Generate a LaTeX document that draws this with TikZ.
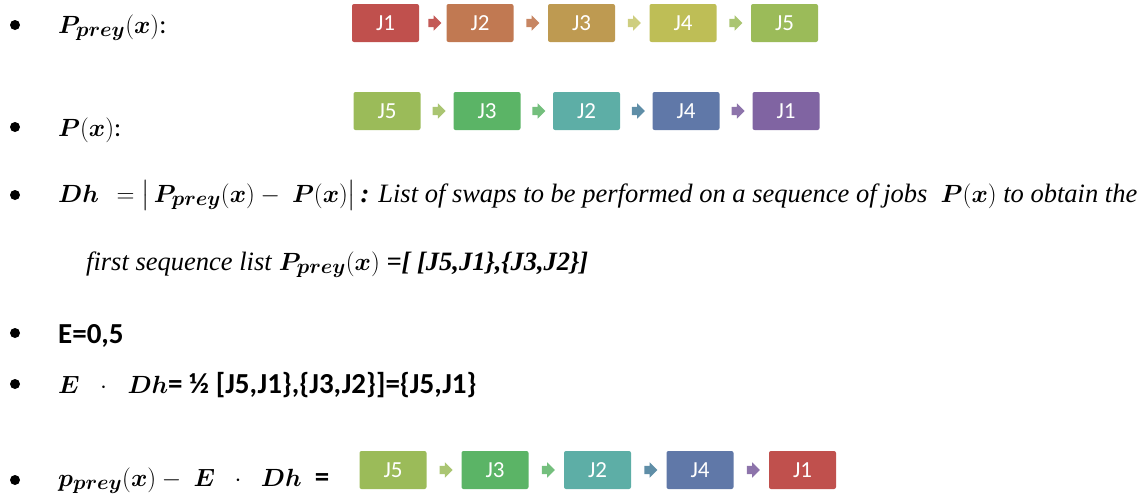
\documentclass[tikz,border=0pt]{standalone}
\usepackage{amsmath}
\usepackage{bm}
\usepackage{fontspec}
\setmainfont{Liberation Serif}
\newfontfamily\calibri{Carlito}
\usetikzlibrary{shapes.arrows,calc}

\definecolor{jobRed}{HTML}{C0504D}
\definecolor{jobBrown}{HTML}{C17952}
\definecolor{jobOchre}{HTML}{BE9A51}
\definecolor{jobOlive}{HTML}{BEBE56}
\definecolor{jobLime}{HTML}{9BBB59}
\definecolor{jobGreen}{HTML}{5BB466}
\definecolor{jobTeal}{HTML}{5DAEA6}
\definecolor{jobBlue}{HTML}{6078A8}
\definecolor{jobPurple}{HTML}{8064A2}

\newcommand{\sansbold}{\calibri\bfseries\fontsize{29}{31}\selectfont}
\newcommand{\prey}{_{\text{\fontsize{21}{21}\selectfont$\bm{prey}$}}}

\tikzset{
    jobbox/.style={
        fill=#1,
        rounded corners=2pt,
        minimum width=67pt,
        minimum height=38pt,
        inner sep=0pt,
        text=white,
        font=\calibri\fontsize{23}{23}\selectfont
    },
    jobarrow/.style={
        single arrow,
        fill=#1,
        inner xsep=0pt,
        inner ysep=4pt,
        minimum height=13pt,
        single arrow head extend=3.5pt
    },
    bulletdot/.style={
        circle,
        fill=black,
        minimum size=10pt,
        inner sep=0pt
    },
    textline/.style={
        anchor=base west,
        inner sep=0pt,
        font=\fontsize{26.5}{30}\selectfont
    }
}

\begin{document}
\begin{tikzpicture}[x=1pt,y=-1pt]

        \useasboundingbox (0,0) rectangle (1142,498);

        % =====================================================
        % LINEA 1: P_prey(x)
        % =====================================================

        \node[bulletdot] (b1) at (15,25) {};
        \node[textline] (l1) at (58,33) {$\bm{P}\prey(\bm{x})${\calibri :}};

        \node[jobbox=jobRed]   (p1) at (385.5,23) {J1};
        \node[jobbox=jobBrown] (p2) at (480,23)   {J2};
        \node[jobbox=jobOchre] (p3) at (581.5,23) {J3};
        \node[jobbox=jobOlive] (p4) at (683,23)   {J4};
        \node[jobbox=jobLime]  (p5) at (784.5,23) {J5};

        \node[jobarrow=jobRed!95!white]   (pa1) at ($(p1.east)!0.5!(p2.west)$) {};
        \node[jobarrow=jobBrown!90!white] (pa2) at ($(p2.east)!0.5!(p3.west)$) {};
        \node[jobarrow=jobOlive!75!white] (pa3) at ($(p3.east)!0.5!(p4.west)$) {};
        \node[jobarrow=jobLime!85!white]  (pa4) at ($(p4.east)!0.5!(p5.west)$) {};

        % =====================================================
        % LINEA 2: P(x)
        % =====================================================

        \node[bulletdot] (b2) at (15,127) {};
        \node[textline] (l2) at (58,136) {$\bm{P}(\bm{x})${\calibri :}};

        \node[jobbox=jobLime]   (q1) at (387,111)   {J5};
        \node[jobbox=jobGreen]  (q2) at (487,111)   {J3};
        \node[jobbox=jobTeal]   (q3) at (586.5,111) {J2};
        \node[jobbox=jobBlue]   (q4) at (686,111)   {J4};
        \node[jobbox=jobPurple] (q5) at (786,111)   {J1};

        \node[jobarrow=jobLime!85!white]   (qa1) at ($(q1.east)!0.5!(q2.west)$) {};
        \node[jobarrow=jobGreen!85!white]  (qa2) at ($(q2.east)!0.5!(q3.west)$) {};
        \node[jobarrow=jobBlue!60!jobTeal] (qa3) at ($(q3.east)!0.5!(q4.west)$) {};
        \node[jobarrow=jobPurple!90!white] (qa4) at ($(q4.east)!0.5!(q5.west)$) {};

        % =====================================================
        % LINEA 3-4: Dh
        % =====================================================

        \node[bulletdot] (b3) at (15,195) {};
        \node[textline] (l3) at (58,202) {%
            $\bm{Dh}\ \,=\bigl|\,\bm{P}\prey(\bm{x})-\ \bm{P}(\bm{x})\bigr|$%
            \textbf{\textit{\,:}} \textit{List of swaps to be performed on a sequence of jobs}
            $\ \bm{P}(\bm{x})$ \textit{to obtain the}};
        \node[textline] (l4) at (86,270) {%
            \textit{first sequence list} $\bm{P}\prey(\bm{x})$
            \textbf{\textit{=[ [J5,J1\},\{J3,J2\}]}}};

        % =====================================================
        % LINEA 5-6: E
        % =====================================================

        \node[bulletdot] (b5) at (15,333) {};
        \node[textline] (l5) at (58,343) {\sansbold E=0,5};

        \node[bulletdot] (b6) at (15,384) {};
        \node[textline, font=\fontsize{32}{34}\selectfont] (l6) at (58,393) {%
            $\bm{E}\ \;\cdot\;\ \bm{Dh}${\sansbold = ½ [J5,J1\},\{J3,J2\}]=\{J5,J1\}}};

        % =====================================================
        % LINEA 7: resultado
        % =====================================================

        \node[bulletdot] (b7) at (15,480) {};
        \node[textline, font=\fontsize{28}{31}\selectfont] (l7) at (58,486) {%
            $\bm{p}\prey(\bm{x})-\ \bm{E}\ \;\cdot\;\ \bm{Dh}${\sansbold\ \ =}};

        \node[jobbox=jobLime]   (r1) at (393,470)   {J5};
        \node[jobbox=jobGreen]  (r2) at (495,470)   {J3};
        \node[jobbox=jobTeal]   (r3) at (597.5,470) {J2};
        \node[jobbox=jobBlue]   (r4) at (700,470)   {J4};
        \node[jobbox=jobRed]    (r5) at (802.5,470) {J1};

        \node[jobarrow=jobLime!85!white]   (ra1) at ($(r1.east)!0.5!(r2.west)$) {};
        \node[jobarrow=jobGreen!85!white]  (ra2) at ($(r2.east)!0.5!(r3.west)$) {};
        \node[jobarrow=jobBlue!60!jobTeal] (ra3) at ($(r3.east)!0.5!(r4.west)$) {};
        \node[jobarrow=jobPurple!90!white] (ra4) at ($(r4.east)!0.5!(r5.west)$) {};

\end{tikzpicture}
\end{document}
